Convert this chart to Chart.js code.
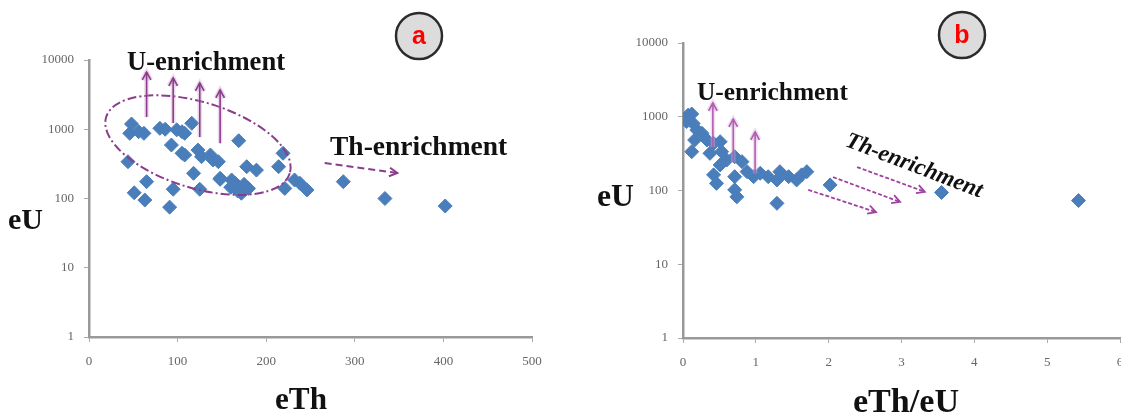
<!DOCTYPE html>
<html>
<head>
<meta charset="utf-8">
<script src="https://cdn.jsdelivr.net/npm/chart.js@4.4.0/dist/chart.umd.min.js"></script>
<style>
  html, body { margin: 0; padding: 0; background: #fff; overflow: hidden; }
  #wrap { position: relative; width: 1121px; height: 419px; }
  canvas { position: absolute; top: 0; }
  #chartA { left: 0; }
  #chartB { left: 560px; }
</style>
</head>
<body>
<div id="wrap">
  <canvas id="chartA" width="560" height="419"></canvas>
  <canvas id="chartB" width="580" height="419"></canvas>
</div>
<script>
// panel a: eU vs eTh
const eThA = [48, 46, 56, 62, 80, 86, 99, 105, 108, 116, 169, 93, 105, 108, 123, 127, 137, 140, 146, 44,
  118, 148, 125, 161, 169, 172, 180, 178, 189, 65, 51, 63, 95, 91, 165, 219, 214, 148, 170, 221,
  232, 238, 246, 287, 334, 402, 163, 168, 175, 176, 160];
const eUA = [1190, 873, 922, 873, 1030, 1000, 980, 922, 873, 1220, 684, 592, 450, 425, 500, 402, 425, 360, 340, 340,
  231, 189, 136, 185, 148, 119, 140, 288, 257, 175, 121, 95, 136, 75, 166, 450, 288, 196, 140, 140,
  185, 166, 133, 175, 100, 78, 150, 128, 160, 135, 145];

// panel b: eU vs eTh/eU
const ratioB = [0.07, 0.12, 0.05, 0.14, 0.19, 0.26, 0.16, 0.33, 0.42, 0.51, 0.12, 0.37, 0.53, 0.60, 0.71, 0.81, 0.51, 0.42,
  0.46, 0.71, 0.71, 0.74, 0.88, 0.97, 1.06, 1.17, 1.29, 1.33, 1.45, 1.56, 1.63, 1.70, 1.29, 2.02, 3.55, 5.43];
const eUB = [1050, 1090, 860, 810, 660, 597, 484, 484, 437, 459, 336, 319, 336, 259, 287, 246, 222, 163,
  125, 154, 102, 82, 180, 154, 171, 154, 139, 180, 154, 139, 163, 180, 67, 119, 94, 73];

const yTicks = [1, 10, 100, 1000, 10000];
const xTicksA = [0, 100, 200, 300, 400, 500];
const xTicksB = [0, 1, 2, 3, 4, 5, 6];

// enrichment arrows, in data units
const uArrowsA = { x: [65, 95, 125, 148], from: [1500, 1230, 770, 630], to: [6700, 5500, 4650, 3700] };
const thArrowA = { x: [266, 348], y: [326, 233] };
const uArrowsB = { x: [0.41, 0.69, 0.99], from: [389, 240, 170], to: [1535, 930, 621] };
const thArrowsB = [
  { x: [2.39, 3.32], y: [208, 96] },
  { x: [2.06, 2.98], y: [152, 70] },
  { x: [1.72, 2.65], y: [102, 51] }
];

const SERIF = '"Liberation Serif", "Times New Roman", serif';
const BLUE = '#4A7EBB';

function fitText(ctx, text, x, y, width, style, align) {
  ctx.font = style + ' 100px ' + SERIF;
  const w = ctx.measureText(text).width;
  const size = 100 * width / w;
  ctx.font = style + ' ' + size.toFixed(1) + 'px ' + SERIF;
  ctx.textAlign = align || 'left';
  ctx.textBaseline = 'middle';
  ctx.fillText(text, x, y);
}

function arrow(ctx, x1, y1, x2, y2, color, width, dash, glow) {
  const ang = Math.atan2(y2 - y1, x2 - x1);
  const hl = 9, ha = 0.5;
  const draw = function(col, lw) {
    ctx.strokeStyle = col;
    ctx.lineWidth = lw;
    ctx.setLineDash(dash || []);
    ctx.beginPath();
    ctx.moveTo(x1, y1);
    ctx.lineTo(x2, y2);
    ctx.stroke();
    ctx.setLineDash([]);
    ctx.beginPath();
    ctx.moveTo(x2 - hl * Math.cos(ang - ha), y2 - hl * Math.sin(ang - ha));
    ctx.lineTo(x2, y2);
    ctx.lineTo(x2 - hl * Math.cos(ang + ha), y2 - hl * Math.sin(ang + ha));
    ctx.stroke();
  };
  if (glow) draw(glow, width + 3);
  draw(color, width);
}

function badge(ctx, x, y, letter) {
  ctx.save();
  ctx.beginPath();
  ctx.arc(x, y, 23, 0, Math.PI * 2);
  ctx.fillStyle = '#dcdcdc';
  ctx.fill();
  ctx.lineWidth = 2.5;
  ctx.strokeStyle = '#2b2b2b';
  ctx.stroke();
  ctx.fillStyle = '#ff0000';
  ctx.font = 'bold 25px "Liberation Sans", Arial, sans-serif';
  ctx.textAlign = 'center';
  ctx.textBaseline = 'middle';
  ctx.fillText(letter, x, y + 1);
  ctx.restore();
}

const decoPlugin = {
  id: 'deco',
  afterDatasetsDraw(chart) {
    const draw = chart.config.options.plugins.deco.draw;
    if (!draw) return;
    const ctx = chart.ctx;
    const sx = chart.scales.x, sy = chart.scales.y;
    ctx.save();
    draw(ctx, v => sx.getPixelForValue(v), v => sy.getPixelForValue(v));
    ctx.restore();
  }
};

function makeOptions(xMin, xMax, xTicks, yWidth, xHeight, padTop, padRight, draw) {
  const tickFont = { family: SERIF, size: 13 };
  return {
    responsive: false,
    animation: false,
    layout: { padding: { top: padTop, right: padRight, left: 0, bottom: 0 } },
    plugins: {
      legend: { display: false },
      tooltip: { enabled: false },
      deco: { draw: draw }
    },
    scales: {
      x: {
        type: 'linear',
        min: xMin,
        max: xMax,
        afterBuildTicks: s => { s.ticks = xTicks.map(v => ({ value: v })); },
        afterFit: s => { s.height = xHeight; },
        ticks: { color: '#666', font: tickFont, padding: 12 },
        grid: { display: true, drawOnChartArea: false, tickLength: 5, color: '#aaa' },
        border: { display: true, color: '#999', width: 2.5 }
      },
      y: {
        type: 'logarithmic',
        min: 1,
        max: 10000,
        afterBuildTicks: s => { s.ticks = yTicks.map(v => ({ value: v })); },
        afterFit: s => { s.width = yWidth; },
        ticks: { color: '#666', font: tickFont, padding: 10, callback: v => String(v) },
        grid: { display: true, drawOnChartArea: false, tickLength: 5, color: '#aaa' },
        border: { display: true, color: '#999', width: 2.5 }
      }
    }
  };
}

function scatterData(xs, ys) {
  return {
    datasets: [{
      data: xs.map((x, i) => ({ x: x, y: ys[i] })),
      pointStyle: 'rectRot',
      pointRadius: 7,
      backgroundColor: BLUE,
      borderColor: BLUE,
      borderWidth: 1
    }]
  };
}

document.addEventListener('DOMContentLoaded', function() {
  const PURPLE = '#8B3D8B';

  new Chart(document.getElementById('chartA'), {
    type: 'scatter',
    data: scatterData(eThA, eUA),
    options: makeOptions(0, 500, xTicksA, 89, 82, 60, 28, function(ctx, px, py) {
      // dash-dot ellipse round the main cluster
      ctx.save();
      ctx.translate(px(123), py(590));
      ctx.rotate(17 * Math.PI / 180);
      ctx.beginPath();
      ctx.ellipse(0, 0, 96, 43, 0, 0, Math.PI * 2);
      ctx.setLineDash([9, 3, 2, 3]);
      ctx.lineWidth = 2;
      ctx.strokeStyle = PURPLE;
      ctx.stroke();
      ctx.restore();

      uArrowsA.x.forEach((x, i) => {
        arrow(ctx, px(x), py(uArrowsA.from[i]), px(x), py(uArrowsA.to[i]), PURPLE, 1.6, null, 'rgba(200,150,200,0.35)');
      });
      arrow(ctx, px(thArrowA.x[0]), py(thArrowA.y[0]), px(thArrowA.x[1]), py(thArrowA.y[1]), PURPLE, 2, [7, 4]);

      ctx.fillStyle = '#111';
      fitText(ctx, 'U-enrichment', 127, 63, 158, 'bold');
      fitText(ctx, 'Th-enrichment', 330, 148, 177, 'bold');
      fitText(ctx, 'eU', 8, 221, 35, 'bold');
      fitText(ctx, 'eTh', 301, 401, 52, 'bold', 'center');
      badge(ctx, 419, 36, 'a');
    })
  , plugins: [decoPlugin] });

  new Chart(document.getElementById('chartB'), {
    type: 'scatter',
    data: scatterData(ratioB, eUB),
    options: makeOptions(0, 6, xTicksB, 123, 81, 43, 20, function(ctx, px, py) {
      uArrowsB.x.forEach((x, i) => {
        arrow(ctx, px(x), py(uArrowsB.from[i]), px(x), py(uArrowsB.to[i]), '#B060B0', 1.6, null, 'rgba(220,170,220,0.4)');
      });
      thArrowsB.forEach(a => {
        arrow(ctx, px(a.x[0]), py(a.y[0]), px(a.x[1]), py(a.y[1]), '#A040A0', 1.8, [4, 2]);
      });

      ctx.fillStyle = '#111';
      fitText(ctx, 'U-enrichment', 137, 93, 151, 'bold');
      ctx.save();
      ctx.translate(354, 166);
      ctx.rotate(21 * Math.PI / 180);
      fitText(ctx, 'Th-enrichment', 0, 0, 145, 'italic bold', 'center');
      ctx.restore();
      fitText(ctx, 'eU', 37, 198, 37, 'bold');
      fitText(ctx, 'eTh/eU', 346, 403, 106, 'bold', 'center');
      badge(ctx, 402, 35, 'b');
    })
  , plugins: [decoPlugin] });
});
</script>
</body>
</html>
